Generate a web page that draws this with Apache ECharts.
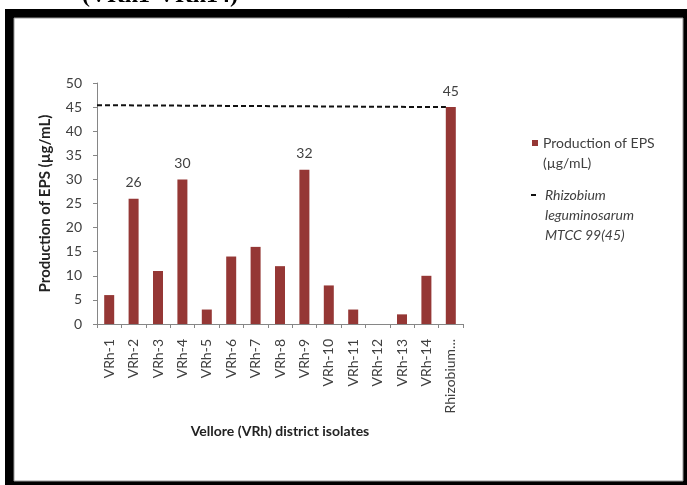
<!DOCTYPE html>
<html>
<head>
<meta charset="utf-8">
<script src="https://cdn.jsdelivr.net/npm/echarts@6/dist/echarts.min.js"></script>
<style>
html,body{margin:0;padding:0;background:#fff;}
#c{width:687px;height:485px;}
</style>
</head>
<body>
<div id="c"></div>
<script>
const categories = ['VRh-1','VRh-2','VRh-3','VRh-4','VRh-5','VRh-6','VRh-7','VRh-8','VRh-9','VRh-10','VRh-11','VRh-12','VRh-13','VRh-14','Rhizobium...'];
const epsValues = [6, 26, 11, 30, 3, 14, 16, 12, 32, 8, 3, 0, 2, 10, 45];
const labelledCategories = ['VRh-2','VRh-4','VRh-9','Rhizobium...'];
const refLineX = [0, 14.3];
const refLineY = [45.4, 45];
const yTicks = {min: 0, max: 50, interval: 5};
const barName = 'Production of EPS\n(µg/mL)';
const lineName = 'Rhizobium\nleguminosarum\nMTCC 99(45)';

const font = 'Lato, "Open Sans", sans-serif';
const txt = '#404040';
const barColor = '#953735';

const chart = echarts.init(document.getElementById('c'), null, {renderer: 'canvas'});
chart.setOption({
  backgroundColor: '#ffffff',
  animation: false,
  graphic: [
    {type: 'rect', z: -10, shape: {x: 5, y: 9, width: 682, height: 476}, style: {fill: '#000'}},
    {type: 'rect', z: -9, shape: {x: 14, y: 18, width: 669, height: 463}, style: {fill: '#fff', stroke: '#999', lineWidth: 1}},
    {type: 'text', z: 10, left: 82, top: -16, style: {text: '(VRh1-VRh14)', font: 'bold 24px "Liberation Serif", serif', fill: '#000'}}
  ],
  grid: {left: 97, right: 224, top: 83, bottom: 161, containLabel: false},
  legend: [
    {
      left: 527, top: 108, orient: 'vertical', icon: 'rect', itemWidth: 6, itemHeight: 6, itemGap: 6,
      data: [barName], selectedMode: false,
      formatter: name => '\n' + name,
      textStyle: {fontFamily: font, fontSize: 14, color: txt, lineHeight: 20}
    },
    {
      left: 526, top: 140, orient: 'vertical', icon: 'rect', itemWidth: 5, itemHeight: 2, itemGap: 6,
      data: [lineName], selectedMode: false,
      formatter: name => '\n\n' + name,
      textStyle: {fontFamily: font, fontSize: 14, fontStyle: 'italic', color: txt, lineHeight: 20, padding: [0, 0, 0, 4]}
    }
  ],
  xAxis: [
    {
      type: 'category', data: categories, gridIndex: 0,
      axisLine: {lineStyle: {color: '#868686', width: 1}},
      axisTick: {show: true, alignWithLabel: false, length: 4, lineStyle: {color: '#868686'}},
      axisLabel: {interval: 0, rotate: 90, fontFamily: font, fontSize: 14, color: txt, margin: 15},
      name: 'Vellore (VRh) district isolates', nameLocation: 'middle', nameGap: 100,
      nameTextStyle: {fontFamily: font, fontSize: 14, fontWeight: 'bold', color: '#222'}
    },
    {
      type: 'value', gridIndex: 0, min: 0, max: 15, show: false
    }
  ],
  yAxis: {
    type: 'value', min: yTicks.min, max: yTicks.max, interval: yTicks.interval,
    splitLine: {show: false},
    axisLine: {show: true, lineStyle: {color: '#868686', width: 1}},
    axisTick: {show: true, length: 4, lineStyle: {color: '#868686'}},
    axisLabel: {fontFamily: font, fontSize: 14, color: txt, margin: 15},
    name: 'Production of EPS (µg/mL)', nameLocation: 'middle', nameGap: 44, nameRotate: 90,
    nameTextStyle: {fontFamily: font, fontSize: 15, fontWeight: 'bold', color: '#222'}
  },
  series: [
    {
      name: barName, type: 'bar', xAxisIndex: 0, barWidth: 10,
      itemStyle: {color: barColor},
      data: epsValues.map((v, i) => ({
        value: v,
        label: {show: labelledCategories.includes(categories[i])}
      })),
      label: {position: 'top', distance: 9, fontFamily: font, fontSize: 14, color: txt}
    },
    {
      name: lineName, type: 'line', xAxisIndex: 1, symbol: 'none',
      itemStyle: {color: '#111'},
      lineStyle: {color: '#111', width: 2, type: [5, 3]},
      data: refLineX.map((x, i) => [x, refLineY[i]]),
      z: 5
    }
  ]
});
</script>
</body>
</html>
